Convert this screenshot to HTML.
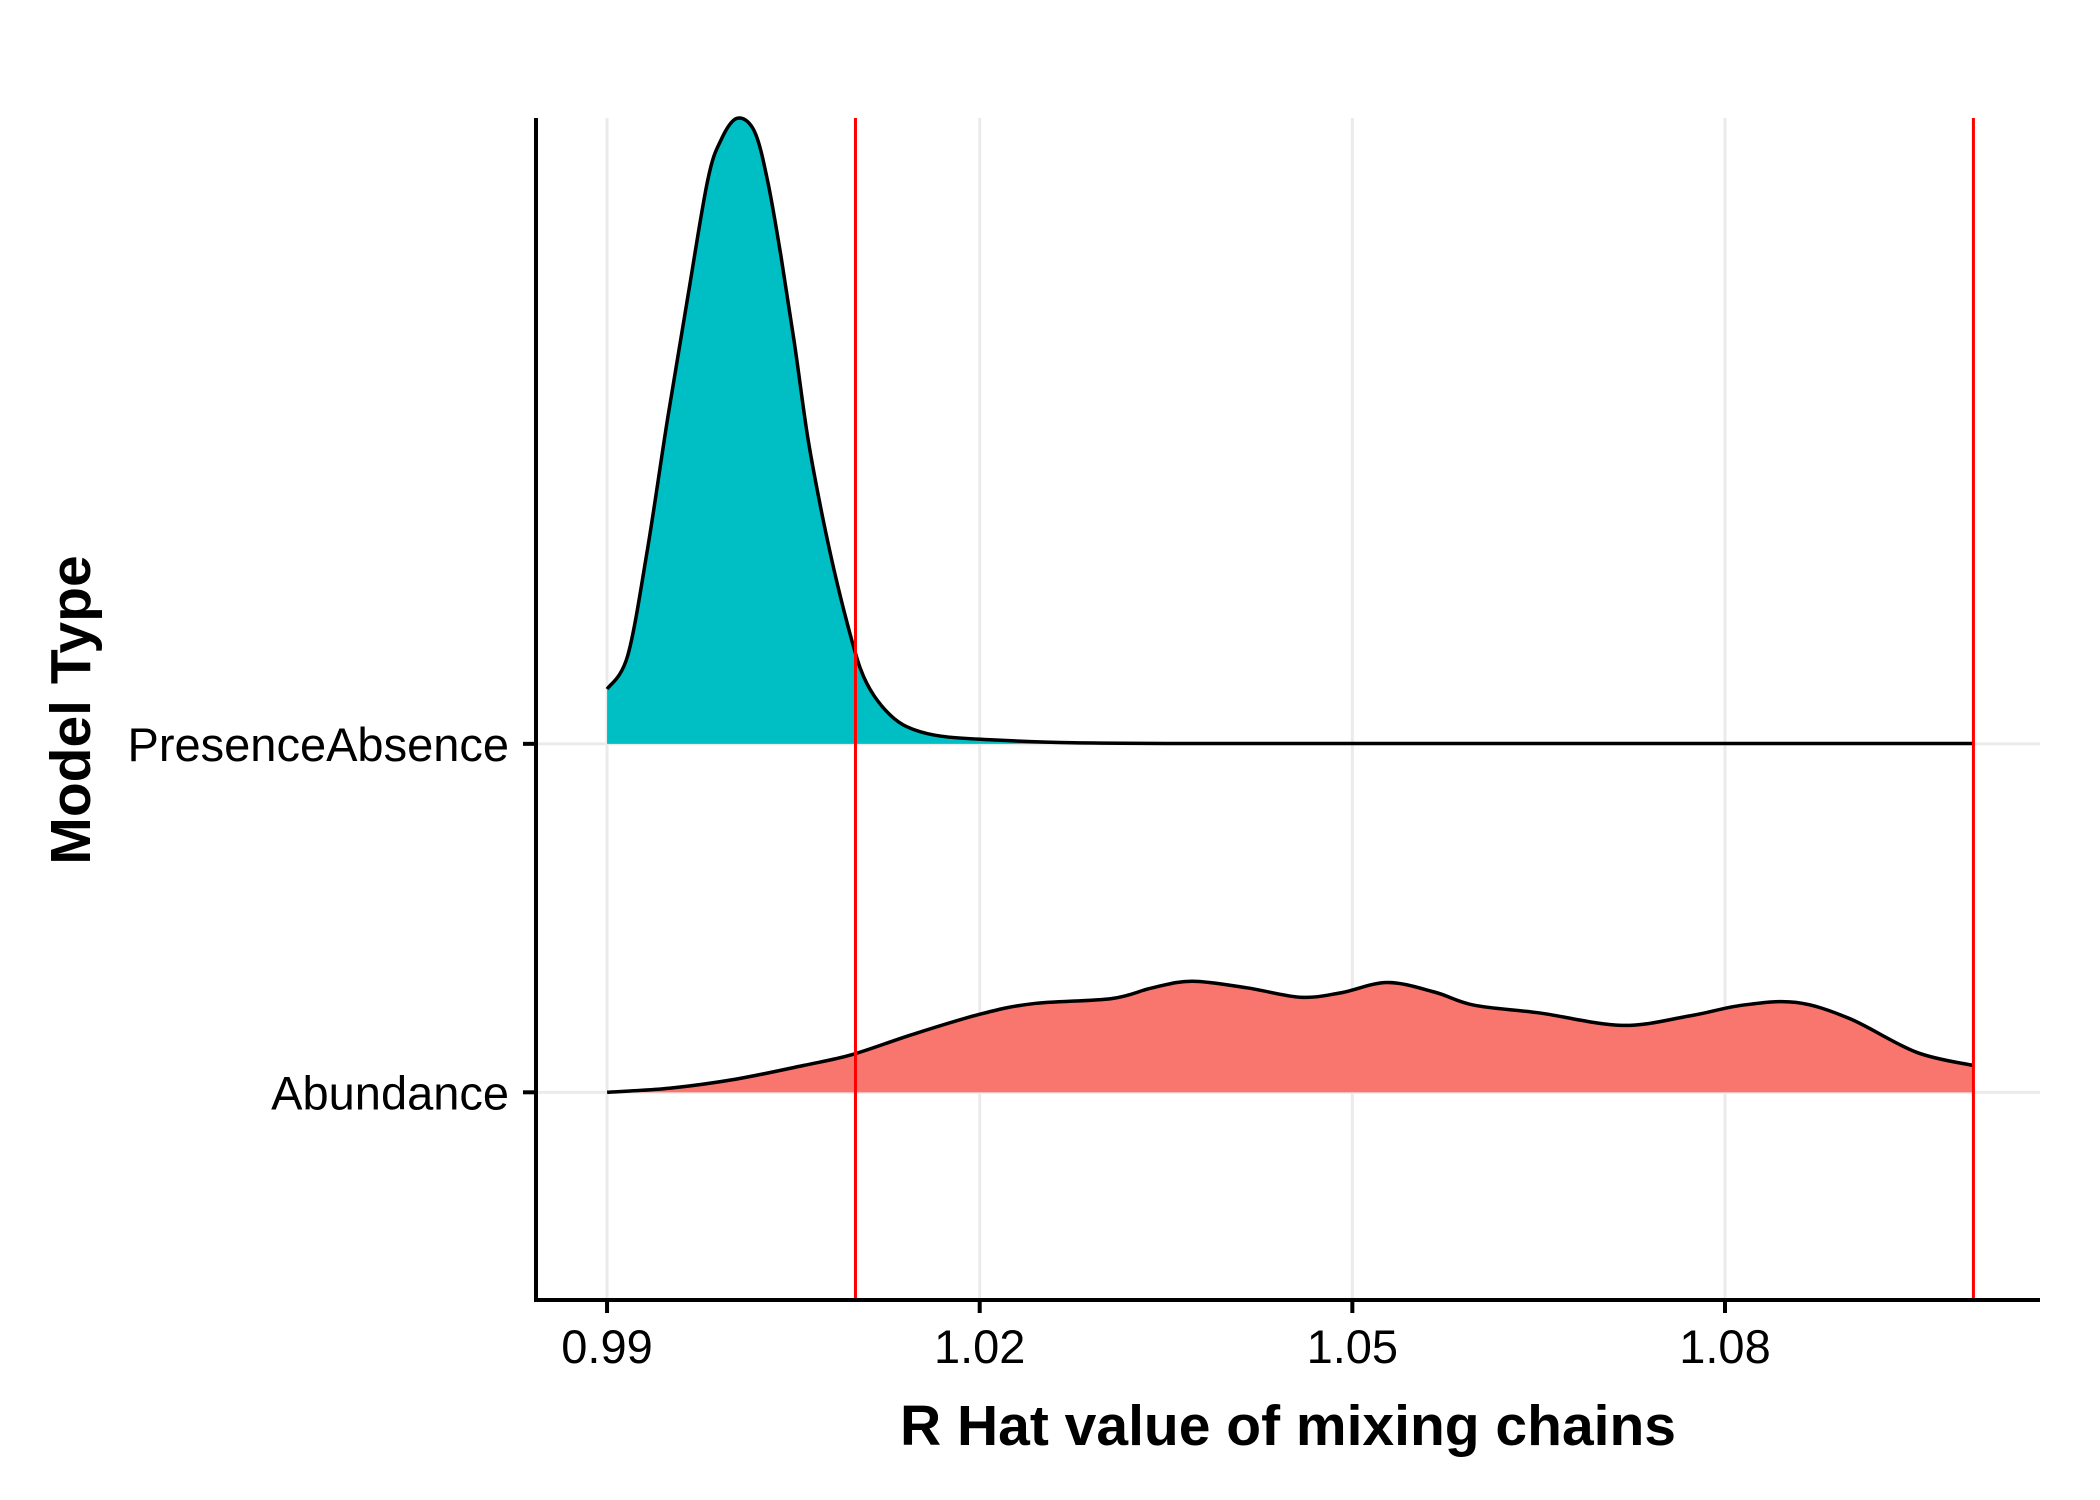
<!DOCTYPE html>
<html><head><meta charset="utf-8"><style>
html,body{margin:0;padding:0;background:#fff;}
svg{display:block;font-family:"Liberation Sans",Arial,sans-serif;}
</style></head><body>
<svg id="chart" width="2100" height="1500" viewBox="0 0 2100 1500" xmlns="http://www.w3.org/2000/svg">
<rect width="2100" height="1500" fill="#fff"/>
<g id="grid"></g>
<g id="ridges"></g>
<g id="vlines"></g>
<g id="axes"></g>
<text x="1288" y="1445" text-anchor="middle" font-weight="bold" font-size="57">R Hat value of mixing chains</text>
<text transform="translate(90,710) rotate(-90)" text-anchor="middle" font-weight="bold" font-size="57">Model Type</text>
</svg>
<script>
const categories = ["Abundance", "PresenceAbsence"];
const xTicks = [0.99, 1.02, 1.05, 1.08];
const xTickLabels = ["0.99", "1.02", "1.05", "1.08"];
const refLines = [1.01, 1.1];
const paX = [0.99,0.99166,0.99327,0.99488,0.9965,0.9981,0.99917,1.00046,1.00185,1.00292,1.004,1.00507,1.00614,1.0072,1.00828,1.00935,1.0104,1.0115,1.0131,1.0147,1.0169,1.0201,1.0275,1.04,1.06,1.08,1.1];
const paY = [0.157,0.253,0.562,0.935,1.283,1.617,1.733,1.795,1.759,1.617,1.399,1.154,0.884,0.678,0.498,0.344,0.215,0.138,0.073,0.041,0.022,0.013,0.003,0.001,0.001,0.001,0.001];
const abX = [0.99,0.9951,1.0004,1.0058,1.0097,1.0145,1.0199,1.0242,1.0306,1.0339,1.0371,1.0415,1.0458,1.049,1.0528,1.0566,1.0598,1.0652,1.0717,1.0771,1.0814,1.0857,1.09,1.0954,1.1];
const abY = [0,0.012,0.038,0.077,0.108,0.165,0.223,0.254,0.269,0.3,0.319,0.3,0.273,0.285,0.315,0.288,0.25,0.227,0.192,0.219,0.25,0.258,0.212,0.115,0.077];

const NS = "http://www.w3.org/2000/svg";
const X0 = 536, X1 = 2040, Y0 = 118, Y1 = 1300;
const xMin = 0.98428, xMax = 1.10536, yMin = 0.404, yMax = 3.796;
function sx(v){ return X0 + (v - xMin) / (xMax - xMin) * (X1 - X0); }
function sy(v){ return Y1 - (v - yMin) / (yMax - yMin) * (Y1 - Y0); }
function mk(tag, attrs, parent){ const e = document.createElementNS(NS, tag); for (const k in attrs) e.setAttribute(k, attrs[k]); parent.appendChild(e); return e; }
function smooth(pts){
  let d = "M" + pts[0][0].toFixed(1) + "," + pts[0][1].toFixed(1);
  for (let i = 0; i < pts.length - 1; i++) {
    const p0 = pts[Math.max(i-1,0)], p1 = pts[i], p2 = pts[i+1], p3 = pts[Math.min(i+2, pts.length-1)];
    const c1 = [p1[0] + (p2[0]-p0[0])/6, p1[1] + (p2[1]-p0[1])/6];
    const c2 = [p2[0] - (p3[0]-p1[0])/6, p2[1] - (p3[1]-p1[1])/6];
    d += " C" + c1[0].toFixed(1) + "," + c1[1].toFixed(1) + " " + c2[0].toFixed(1) + "," + c2[1].toFixed(1) + " " + p2[0].toFixed(1) + "," + p2[1].toFixed(1);
  }
  return d;
}

const grid = document.getElementById("grid");
xTicks.forEach((t) => {
  const l = mk("line", {x1: sx(t), x2: sx(t), y1: Y0, y2: Y1, stroke: "#ebebeb", "stroke-width": 3}, grid);
  
  
});
categories.forEach((c, i) => {
  const l = mk("line", {x1: X0, x2: X1, y1: sy(i + 1), y2: sy(i + 1), stroke: "#ebebeb", "stroke-width": 3}, grid);
  
  
});

const ridges = document.getElementById("ridges");
function ridge(xs, ys, base, fill, name){
  const pts = xs.map((x, i) => [sx(x), sy(base + ys[i])]);
  const top = smooth(pts);
  const area = mk("path", {d: top + " L" + sx(xs[xs.length-1]) + "," + sy(base) + " L" + sx(xs[0]) + "," + sy(base) + " Z", fill: fill, stroke: "none"}, ridges);
  
  
  const line = mk("path", {d: top, fill: "none", stroke: "#000", "stroke-width": 3.5, "stroke-linejoin": "round"}, ridges);
  
  
}
ridge(abX, abY, 1, "#f8766d", "abundance");
ridge(paX, paY, 2, "#00bfc4", "presence-absence");

const vl = document.getElementById("vlines");
refLines.forEach((r) => {
  const l = mk("line", {x1: sx(r), x2: sx(r), y1: Y0, y2: Y1, stroke: "#ff0000", "stroke-width": 3}, vl);
  
  
});

const ax = document.getElementById("axes");
const xa = mk("line", {x1: X0, x2: X1, y1: Y1, y2: Y1, stroke: "#000", "stroke-width": 4}, ax);


const ya = mk("line", {x1: X0, x2: X0, y1: Y0, y2: Y1 + 2, stroke: "#000", "stroke-width": 4}, ax);


xTicks.forEach((t, i) => {
  const tk = mk("line", {x1: sx(t), x2: sx(t), y1: Y1, y2: Y1 + 13, stroke: "#000", "stroke-width": 4}, ax);
  
  
  const tx = mk("text", {x: sx(t), y: 1363, "text-anchor": "middle", "font-size": 47}, ax);
  tx.textContent = xTickLabels[i];
  
  
});
categories.forEach((c, i) => {
  const y = sy(i + 1);
  const tk = mk("line", {x1: X0 - 13, x2: X0, y1: y, y2: y, stroke: "#000", "stroke-width": 4}, ax);
  
  
  const tx = mk("text", {x: 509, y: y + 17, "text-anchor": "end", "font-size": 47}, ax);
  tx.textContent = c;
  
  
});
</script>
</body></html>
